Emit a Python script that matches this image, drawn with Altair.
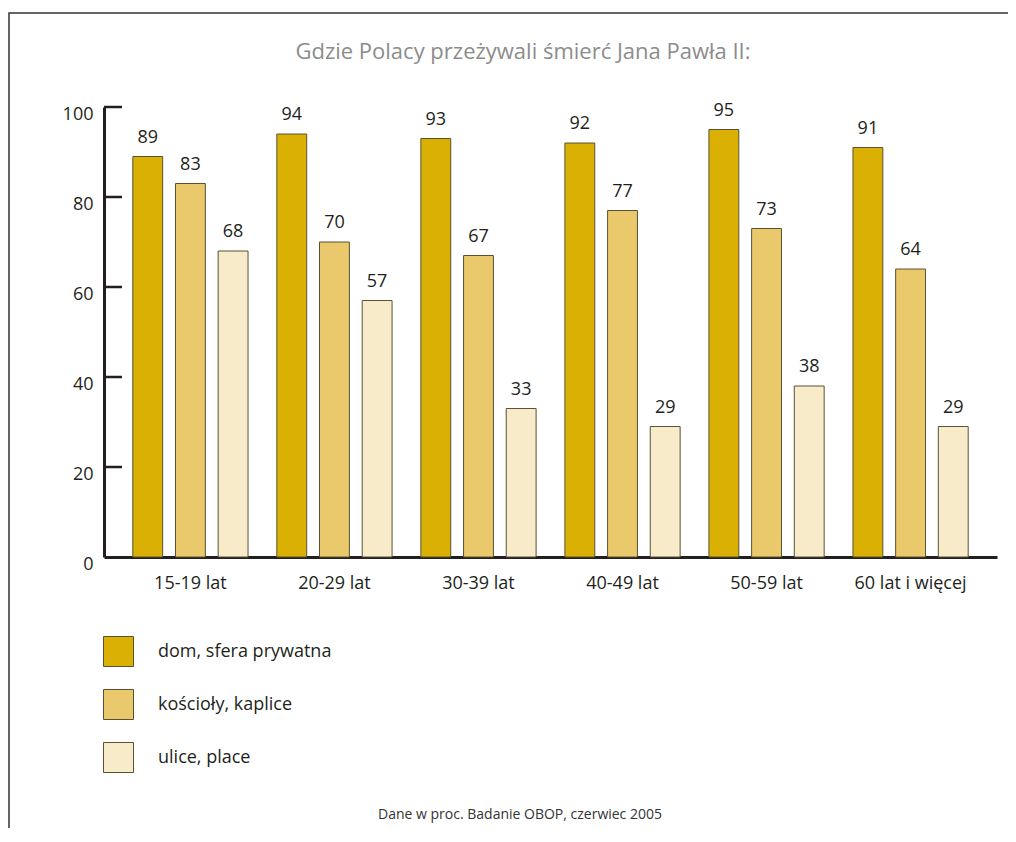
import altair as alt
import pandas as pd

groups = ["15-19 lat", "20-29 lat", "30-39 lat", "40-49 lat", "50-59 lat", "60 lat i więcej"]
series = ["dom, sfera prywatna", "kościoły, kaplice", "ulice, place"]
dom = [89, 94, 93, 92, 95, 91]
koscioly = [83, 70, 67, 77, 73, 64]
ulice = [68, 57, 33, 29, 38, 29]
colors = ["#DBB005", "#E9C96B", "#F7EBCA"]
y_ticks = [0, 20, 40, 60, 80, 100]
inner_ticks = [20, 40, 60, 80, 100]
title_text = "Gdzie Polacy przeżywali śmierć Jana Pawła II:"
source_text = "Dane w proc. Badanie OBOP, czerwiec 2005"

FONT = "Open Sans"
DARK = "#231f20"

rows = []
for s, vals in zip(series, [dom, koscioly, ulice]):
    for g, v in zip(groups, vals):
        rows.append({"grupa": g, "seria": s, "wartosc": v})
df = pd.DataFrame(rows)

W, H = 893, 450

x_enc = alt.X("grupa:N", sort=groups,
              scale=alt.Scale(paddingInner=0.2, paddingOuter=0.2),
              axis=alt.Axis(title=None, labelAngle=0, ticks=False, domainWidth=3,
                            domainColor=DARK, labelFontSize=18, labelPadding=17,
                            labelColor=DARK, labelFont=FONT))
xo_enc = alt.XOffset("seria:N", sort=series,
                     scale=alt.Scale(paddingInner=0.3, paddingOuter=0))
y_enc = alt.Y("wartosc:Q", scale=alt.Scale(domain=[0, 100], nice=False),
              axis=alt.Axis(title=None, values=y_ticks, ticks=False, grid=False,
                            domainWidth=3, domainColor=DARK, labelFontSize=18,
                            labelPadding=11, labelOffset=7, labelColor=DARK,
                            labelFont=FONT))

bars = alt.Chart(df).mark_bar(stroke="#5b5030", strokeWidth=1).encode(
    x=x_enc, xOffset=xo_enc, y=y_enc,
    color=alt.Color("seria:N", sort=series,
                    scale=alt.Scale(domain=series, range=colors),
                    legend=alt.Legend(title=None, orient="none", legendX=-1, legendY=529,
                                      symbolType="square", symbolSize=900,
                                      symbolStrokeColor="#5b5030", symbolStrokeWidth=1,
                                      labelFontSize=18, labelOffset=24, rowPadding=18,
                                      labelLimit=0, padding=0, labelColor=DARK,
                                      labelFont=FONT)),
)

labels = alt.Chart(df).mark_text(dy=-14, baseline="alphabetic", fontSize=18,
                                 color=DARK, font=FONT).encode(
    x=alt.X("grupa:N", sort=groups), xOffset=alt.XOffset("seria:N", sort=series),
    y="wartosc:Q", text="wartosc:Q")

ticks = alt.Chart(pd.DataFrame({"t": inner_ticks})).mark_rule(
    color=DARK, strokeWidth=2.5).encode(
    y="t:Q", x=alt.value(0), x2=alt.value(18))

title = alt.Chart(pd.DataFrame({"t": [title_text]})).mark_text(
    fontSize=22, color="#8c8c8c", font=FONT, align="center", baseline="middle").encode(
    text="t:N", x=alt.value(419), y=alt.value(-55))

source = alt.Chart(pd.DataFrame({"t": [source_text]})).mark_text(
    fontSize=14, color="#333333", font=FONT, align="center", baseline="middle").encode(
    text="t:N", x=alt.value(416), y=alt.value(708))

frame = alt.Chart(pd.DataFrame({"a": [0]})).mark_rect(
    filled=False, stroke="#333333", strokeWidth=1.5).encode(
    x=alt.value(-95), x2=alt.value(1200), y=alt.value(-94), y2=alt.value(1200))

chart = alt.layer(frame, bars, labels, ticks, title, source).properties(
    width=W, height=H,
    autosize=alt.AutoSizeParams(type="none"),
    padding={"left": 96, "top": 99, "right": 11, "bottom": 271},
).configure(font=FONT).configure_view(stroke=None)

chart.save("out.html", embed_options={"renderer": "svg", "actions": False})
